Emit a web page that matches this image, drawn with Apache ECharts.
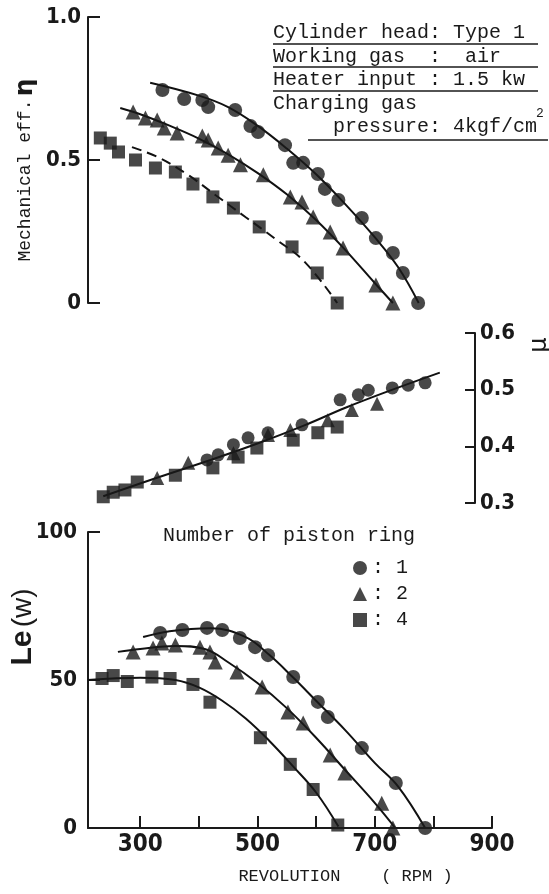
<!DOCTYPE html>
<html>
<head>
<meta charset="utf-8">
<script src="https://cdn.jsdelivr.net/npm/echarts@6/dist/echarts.min.js"></script>
<style>
  html, body { margin: 0; padding: 0; background: #fff; }
  #chart { width: 549px; height: 894px; }
</style>
</head>
<body>
<div id="chart"></div>
<script>
// number of piston rings (legend names)
const ringNames = ['1', '2', '4'];

// x axis ticks / labels (RPM)
const xTickValues = [300, 400, 500, 600, 700, 800, 900];
const xLabelValues = [300, 500, 700, 900];

// ---- top panel: mechanical efficiency ----
const circTopRpm = [338, 375, 406, 416, 462, 488, 501, 547, 561, 578, 603, 615, 638, 678, 702, 731, 748, 774];
const circTopEta = [0.745, 0.713, 0.710, 0.685, 0.675, 0.619, 0.598, 0.552, 0.490, 0.490, 0.451, 0.399, 0.360, 0.297, 0.227, 0.175, 0.105, 0.0];
const triTopRpm = [288, 309, 329, 341, 363, 406, 416, 433, 450, 471, 510, 556, 576, 595, 624, 646, 702, 731];
const triTopEta = [0.668, 0.647, 0.640, 0.612, 0.594, 0.584, 0.570, 0.542, 0.517, 0.483, 0.448, 0.371, 0.353, 0.301, 0.248, 0.192, 0.063, 0.0];
const sqTopRpm = [232, 249, 263, 292, 326, 360, 390, 424, 459, 503, 559, 602, 636];
const sqTopEta = [0.577, 0.559, 0.528, 0.500, 0.472, 0.458, 0.416, 0.371, 0.332, 0.266, 0.196, 0.105, 0.0];

const fitCircTopRpm = [317, 400, 450, 500, 550, 600, 650, 700, 740, 775];
const fitCircTopEta = [0.77, 0.725, 0.685, 0.62, 0.54, 0.45, 0.345, 0.23, 0.125, 0.0];
const fitTriTopRpm = [266, 300, 350, 400, 450, 500, 550, 600, 650, 700, 731];
const fitTriTopEta = [0.682, 0.66, 0.62, 0.575, 0.52, 0.455, 0.38, 0.29, 0.185, 0.07, 0.0];
const fitSqTopRpm = [286, 330, 380, 430, 480, 530, 580, 636];
const fitSqTopEta = [0.545, 0.51, 0.45, 0.375, 0.30, 0.225, 0.145, 0.0];

// ---- middle panel: mu ----
const circMidRpm = [414, 433, 459, 484, 518, 576, 641, 672, 689, 730, 757, 786];
const circMidMu = [0.376, 0.385, 0.403, 0.415, 0.424, 0.438, 0.482, 0.491, 0.499, 0.503, 0.508, 0.512];
const triMidRpm = [329, 382, 459, 518, 556, 620, 661, 704];
const triMidMu = [0.344, 0.371, 0.388, 0.420, 0.429, 0.446, 0.464, 0.475];
const sqMidRpm = [237, 254, 274, 295, 360, 424, 467, 499, 561, 603, 636];
const sqMidMu = [0.311, 0.319, 0.323, 0.337, 0.349, 0.362, 0.381, 0.397, 0.411, 0.424, 0.434];
const fitMidRpm = [237, 330, 420, 500, 580, 650, 720, 811];
const fitMidMu = [0.312, 0.345, 0.376, 0.405, 0.437, 0.468, 0.496, 0.53];

// ---- bottom panel: Le (W) ----
const circBotRpm = [334, 372, 414, 440, 470, 496, 518, 561, 603, 620, 678, 736, 786];
const circBotLe = [65.9, 66.9, 67.6, 66.9, 64.2, 61.1, 58.4, 51, 42.6, 37.5, 27, 15.2, 0];
const triBotRpm = [288, 322, 337, 360, 402, 419, 428, 465, 508, 552, 578, 624, 649, 712, 731];
const triBotLe = [59.5, 60.8, 62.5, 61.8, 61.1, 59.5, 56.1, 52.7, 47.6, 39.2, 35.5, 24.7, 18.6, 8.4, 0];
const sqBotRpm = [235, 254, 278, 320, 351, 390, 419, 505, 556, 595, 637];
const sqBotLe = [50.5, 51.5, 49.5, 51, 50.5, 48.5, 42.5, 30.5, 21.5, 13, 1];

const fitCircBotRpm = [305, 350, 420, 480, 520, 560, 600, 650, 700, 740, 786];
const fitCircBotLe = [64.5, 66.5, 67.5, 64.5, 58.5, 51, 43, 33, 22, 14, 0];
const fitTriBotRpm = [262, 300, 360, 410, 450, 500, 550, 600, 650, 700, 735];
const fitTriBotLe = [59.5, 60.5, 61.5, 60.5, 56, 49, 40.5, 30.5, 19.5, 8.5, 0];
const fitSqBotRpm = [211, 300, 360, 400, 440, 480, 520, 560, 600, 638];
const fitSqBotLe = [50, 50.8, 50, 47.5, 43, 37, 29.5, 21, 12, 0.5];

const monoFont = "'Liberation Mono', 'DejaVu Sans Mono', monospace";
const numFont = "'Liberation Sans Narrow', 'DejaVu Sans Condensed', 'Liberation Sans', sans-serif";
const ink = '#1a1a1a';

let zip = (xs, ys) => xs.map((x, i) => [x, ys[i]]);

let scatter = (name, symbol, size, idx, xs, ys) => ({
  name: name,
  type: 'scatter',
  symbol: symbol,
  symbolSize: size,
  xAxisIndex: idx,
  yAxisIndex: idx,
  itemStyle: { color: ink },
  z: 3,
  data: zip(xs, ys)
});

let fit = (idx, xs, ys, dashed) => ({
  name: 'fit',
  type: 'line',
  xAxisIndex: idx,
  yAxisIndex: idx,
  showSymbol: false,
  smooth: 0.4,
  lineStyle: { color: '#111', width: 2, type: dashed ? [10, 6] : 'solid' },
  z: 2,
  data: zip(xs, ys)
});

let yAxisBase = {
  axisLine: { show: true, onZero: false, lineStyle: { color: ink, width: 2 } },
  axisTick: { show: true, inside: true, length: 12, lineStyle: { color: ink, width: 2 } },
  splitLine: { show: false },
  axisLabel: { fontFamily: numFont, fontWeight: 'bold', fontSize: 22, color: ink }
};

let option = {
  animation: false,
  backgroundColor: '#fff',
  grid: [
    { left: 88, top: 17, width: 404, height: 286, outerBoundsMode: 'none' },
    { left: 88, top: 333, width: 387, height: 170, outerBoundsMode: 'none' },
    { left: 88, top: 532, width: 404, height: 296, outerBoundsMode: 'none' }
  ],
  xAxis: [
    { type: 'value', gridIndex: 0, min: 211, max: 900, show: false },
    { type: 'value', gridIndex: 1, min: 211, max: 871, show: false },
    {
      type: 'value', gridIndex: 2, min: 211, max: 900,
      axisLine: { show: true, onZero: false, lineStyle: { color: ink, width: 2 } },
      axisTick: { show: true, inside: true, length: 12, customValues: xTickValues, lineStyle: { color: ink, width: 2 } },
      axisLabel: {
        customValues: xLabelValues, margin: 5,
        fontFamily: numFont, fontWeight: 'bold', fontSize: 24, color: ink
      },
      splitLine: { show: false },
      name: 'REVOLUTION    ( RPM )',
      nameLocation: 'middle',
      nameGap: 40,
      nameMoveOverlap: false,
      nameTextStyle: { fontFamily: monoFont, fontSize: 17, color: ink, padding: [0, 0, 0, 111] }
    }
  ],
  yAxis: [
    Object.assign({}, yAxisBase, {
      type: 'value', gridIndex: 0, min: 0, max: 1, interval: 0.5,
      axisLabel: Object.assign({}, yAxisBase.axisLabel, {
        margin: 7,
        formatter: v => (v === 0 ? '0' : v.toFixed(1))
      }),
      name: '{a|Mechanical eff.} {b|η}',
      nameLocation: 'middle',
      nameRotate: 90,
      nameGap: 50,
      nameMoveOverlap: false,
      nameTextStyle: {
        padding: [0, 20, 0, 0],
        rich: {
          a: { fontFamily: monoFont, fontSize: 18, color: ink },
          b: { fontFamily: "'DejaVu Sans', sans-serif", fontWeight: 'bold', fontSize: 25, color: ink }
        }
      }
    }),
    Object.assign({}, yAxisBase, {
      type: 'value', gridIndex: 1, position: 'right', min: 0.3, max: 0.6, interval: 0.1,
      axisTick: { show: true, inside: true, length: 10, lineStyle: { color: ink, width: 2 } },
      axisLabel: Object.assign({}, yAxisBase.axisLabel, {
        margin: 5,
        formatter: v => v.toFixed(1)
      })
    }),
    Object.assign({}, yAxisBase, {
      type: 'value', gridIndex: 2, min: 0, max: 100, interval: 50,
      axisLabel: Object.assign({}, yAxisBase.axisLabel, { margin: 11 }),
      name: '{a|Le} {b|(w)}',
      nameLocation: 'middle',
      nameRotate: 90,
      nameGap: 50,
      nameMoveOverlap: false,
      nameTextStyle: {
        padding: [0, 0, 0, 106],
        rich: {
          a: { fontFamily: "'Liberation Sans', sans-serif", fontWeight: 'bold', fontSize: 30, color: ink },
          b: { fontFamily: "'Liberation Sans', sans-serif", fontSize: 28, color: ink }
        }
      }
    })
  ],
  legend: {
    data: [
      { name: ringNames[0], icon: 'circle' },
      { name: ringNames[1], icon: 'triangle' },
      { name: ringNames[2], icon: 'rect' }
    ],
    orient: 'vertical',
    left: 348,
    top: 553,
    itemWidth: 14,
    itemHeight: 14,
    itemGap: 6,
    selectedMode: false,
    formatter: ': {name}',
    textStyle: { fontFamily: monoFont, fontSize: 20, color: ink, lineHeight: 20 }
  },
  graphic: [
    { type: 'text', left: 273, top: 23, style: { text: 'Cylinder head: Type 1', fontFamily: monoFont, fontSize: 20, fill: ink } },
    { type: 'line', shape: { x1: 273, y1: 44, x2: 538, y2: 44 }, style: { stroke: ink, lineWidth: 1.5 } },
    { type: 'text', left: 273, top: 47, style: { text: 'Working gas  :  air', fontFamily: monoFont, fontSize: 20, fill: ink } },
    { type: 'line', shape: { x1: 273, y1: 67, x2: 538, y2: 67 }, style: { stroke: ink, lineWidth: 1.5 } },
    { type: 'text', left: 273, top: 70, style: { text: 'Heater input : 1.5 kw', fontFamily: monoFont, fontSize: 20, fill: ink } },
    { type: 'line', shape: { x1: 273, y1: 91, x2: 538, y2: 91 }, style: { stroke: ink, lineWidth: 1.5 } },
    { type: 'text', left: 273, top: 94, style: { text: 'Charging gas', fontFamily: monoFont, fontSize: 20, fill: ink } },
    { type: 'text', left: 273, top: 117, style: { text: '     pressure: 4kgf/cm', fontFamily: monoFont, fontSize: 20, fill: ink } },
    { type: 'text', left: 536, top: 107, style: { text: '2', fontFamily: monoFont, fontSize: 13, fill: ink } },
    { type: 'line', shape: { x1: 308, y1: 140, x2: 548, y2: 140 }, style: { stroke: ink, lineWidth: 1.5 } },
    { type: 'text', left: 163, top: 526, style: { text: 'Number of piston ring', fontFamily: monoFont, fontSize: 20, fill: ink } },
    { type: 'text', x: 540, y: 345, rotation: Math.PI / 2, style: { text: 'μ', fontFamily: "'DejaVu Sans', sans-serif", fontSize: 24, fill: ink, align: 'center', verticalAlign: 'middle' } }
  ],
  series: [
    fit(0, fitCircTopRpm, fitCircTopEta, false),
    fit(0, fitTriTopRpm, fitTriTopEta, false),
    fit(0, fitSqTopRpm, fitSqTopEta, true),
    scatter(ringNames[0], 'circle', 14, 0, circTopRpm, circTopEta),
    scatter(ringNames[1], 'triangle', 15, 0, triTopRpm, triTopEta),
    scatter(ringNames[2], 'rect', 13, 0, sqTopRpm, sqTopEta),

    fit(1, fitMidRpm, fitMidMu, false),
    scatter(ringNames[0], 'circle', 13, 1, circMidRpm, circMidMu),
    scatter(ringNames[1], 'triangle', 14, 1, triMidRpm, triMidMu),
    scatter(ringNames[2], 'rect', 13, 1, sqMidRpm, sqMidMu),

    fit(2, fitCircBotRpm, fitCircBotLe, false),
    fit(2, fitTriBotRpm, fitTriBotLe, false),
    fit(2, fitSqBotRpm, fitSqBotLe, false),
    scatter(ringNames[0], 'circle', 14, 2, circBotRpm, circBotLe),
    scatter(ringNames[1], 'triangle', 15, 2, triBotRpm, triBotLe),
    scatter(ringNames[2], 'rect', 13, 2, sqBotRpm, sqBotLe)
  ]
};

let myChart = echarts.init(document.getElementById('chart'));
myChart.setOption(option);
</script>
</body>
</html>
